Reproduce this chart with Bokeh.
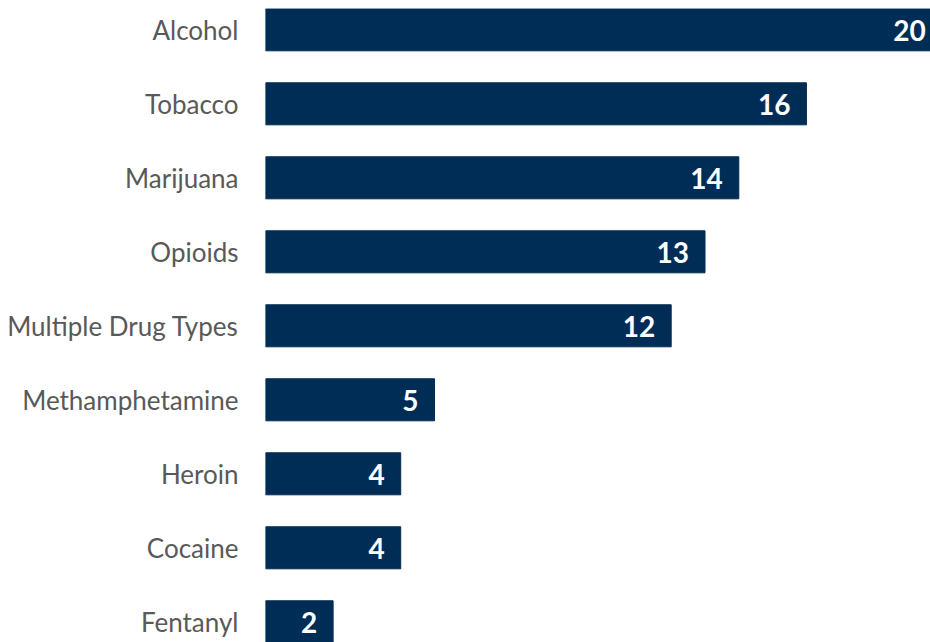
from bokeh.plotting import figure
from bokeh.models import Range1d, FixedTicker, ColumnDataSource
from bokeh.core.properties import value
from bokeh.embed import file_html
from bokeh.resources import INLINE

categories = ["Alcohol", "Tobacco", "Marijuana", "Opioids", "Multiple Drug Types",
              "Methamphetamine", "Heroin", "Cocaine", "Fentanyl"]
counts = [20, 16, 14, 13, 12, 5, 4, 4, 2]

BAR = "#002D56"
positions = list(range(len(categories)))

src = ColumnDataSource(dict(y=positions, v=counts, lbl=[str(c) for c in counts]))

p = figure(width=930, height=642, output_backend="svg", toolbar_location=None,
           x_range=Range1d(0, 19.67), y_range=Range1d(8.28, -0.288),
           min_border_left=265, min_border_right=0, min_border_top=8, min_border_bottom=0)

p.hbar(y="y", right="v", left=0, height=0.568, source=src, fill_color=BAR, line_color=BAR)
p.text(x="v", y="y", text="lbl", source=src, x_offset=-16, y_offset=1,
       text_align="right", text_baseline="middle", text_color="white",
       text_font=value("Lato"), text_font_style="bold", text_font_size="28px")

p.xaxis.visible = False
ax = p.yaxis[0]
ax.ticker = FixedTicker(ticks=positions)
ax.major_label_overrides = {i: c for i, c in enumerate(categories)}
ax.axis_line_color = None
ax.major_tick_line_color = None
ax.minor_tick_line_color = None
ax.major_tick_out = 0
ax.major_tick_in = 0
ax.major_label_standoff = 27
ax.major_label_text_font = "Lato"
ax.major_label_text_font_size = "26px"
ax.major_label_text_color = "#595959"

p.xgrid.visible = False
p.ygrid.visible = False
p.outline_line_color = None

open("out.html", "w").write(file_html(p, INLINE))
